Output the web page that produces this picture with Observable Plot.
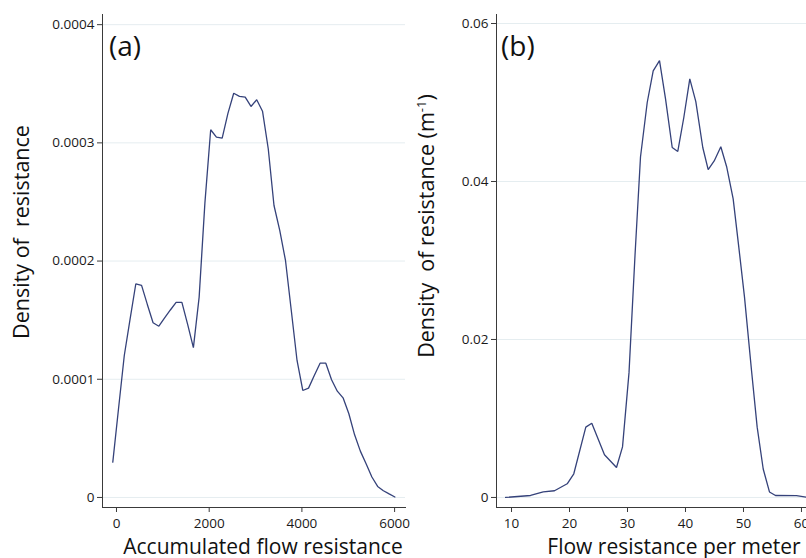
<!DOCTYPE html>
<html>
<head>
<meta charset="utf-8">
<script src="https://cdn.jsdelivr.net/npm/d3@7"></script>
<script src="https://cdn.jsdelivr.net/npm/@observablehq/plot@0.6"></script>
<style>
  html, body { margin: 0; padding: 0; background: #fff; }
  #chart { position: relative; width: 806px; height: 558px; overflow: hidden; background: #fff; }
  .panel { position: absolute; top: 0; }
  .panel svg { display: block; }
</style>
</head>
<body>
<div id="chart">
  <div class="panel" id="panelA" style="left:0;width:410px;height:558px"></div>
  <div class="panel" id="panelB" style="left:400px;width:412px;height:558px"></div>
</div>
<script>
// Panel (a): kernel density of accumulated flow resistance
const accumulatedX = [-80, 44, 168, 293, 417, 541, 665, 789, 914, 1038, 1162, 1286, 1411, 1535, 1659,
  1783, 1907, 2032, 2156, 2280, 2404, 2529, 2653, 2777, 2901, 3025, 3150, 3274, 3398, 3522, 3646,
  3771, 3895, 4019, 4143, 4267, 4392, 4516, 4640, 4764, 4888, 5013, 5137, 5261, 5385, 5510, 5634,
  5758, 5882, 6006];
const accumulatedDensity = [0.0000299, 0.0000753, 0.0001201, 0.0001509, 0.0001808, 0.0001794,
  0.0001633, 0.0001478, 0.0001449, 0.0001519, 0.0001586, 0.0001650, 0.0001650, 0.0001464,
  0.0001267, 0.0001695, 0.0002490, 0.0003111, 0.0003048, 0.0003040, 0.0003250, 0.0003420,
  0.0003393, 0.0003387, 0.0003308, 0.0003365, 0.0003268, 0.0002950, 0.0002470, 0.0002259,
  0.0002005, 0.0001582, 0.0001159, 0.0000905, 0.0000925, 0.0001032, 0.0001136, 0.0001136,
  0.0000996, 0.0000899, 0.0000843, 0.0000708, 0.0000530, 0.0000392, 0.0000285, 0.0000173,
  0.0000093, 0.0000057, 0.0000030, 0.0000004];
const accumulatedXTicks = [0, 2000, 4000, 6000];
const accumulatedYTicks = [0, 0.0001, 0.0002, 0.0003, 0.0004];

// Panel (b): kernel density of flow resistance per meter
const perMeterX = [8.97, 13.28, 15.47, 17.41, 19.60, 20.74, 22.81, 23.84, 26.03, 28.10, 29.14,
  30.26, 31.29, 32.24, 33.40, 34.43, 35.52, 36.55, 37.71, 38.67, 39.71, 40.74, 41.78, 42.98,
  43.91, 44.95, 46.09, 47.12, 48.22, 49.19, 50.17, 51.38, 52.36, 53.40, 54.48, 55.52, 59.14, 60.86];
const perMeterDensity = [0.0000, 0.00025, 0.00072, 0.00085, 0.00173, 0.0030, 0.0089, 0.0094,
  0.0054, 0.0038, 0.0064, 0.0158, 0.0306, 0.0431, 0.0500, 0.0540, 0.0553, 0.0505, 0.0443, 0.0438,
  0.0481, 0.0530, 0.0501, 0.0443, 0.0415, 0.0426, 0.0444, 0.0418, 0.0378, 0.0317, 0.0254, 0.0161,
  0.0089, 0.0036, 0.0007, 0.00025, 0.00023, 0.00004];
const perMeterXTicks = [10, 20, 30, 40, 50, 60];
const perMeterYTicks = [0, 0.02, 0.04, 0.06];

const FONT = "'Open Sans', 'Noto Sans', sans-serif";
const LINE = "#35427a";
const GRID = "#e5edf0";
const AXIS = "#3a3a3a";

function densityPanel({xs, ys, xDomain, yDomain, xTicks, yTicks, width, marginLeft, marginRight}) {
  const rows = xs.map((x, i) => ({x, y: ys[i]}));
  return Plot.plot({
    width, height: 558,
    marginLeft, marginRight, marginTop: 14, marginBottom: 51,
    style: {fontFamily: FONT, fontSize: "13.5px", color: "#1a1a1a", background: "transparent"},
    x: {domain: xDomain},
    y: {domain: yDomain},
    marks: [
      Plot.gridY(yTicks, {stroke: GRID, strokeOpacity: 1, strokeWidth: 1}),
      Plot.frame({anchor: "left", stroke: AXIS}),
      Plot.frame({anchor: "bottom", stroke: AXIS}),
      Plot.axisY(yTicks, {tickSize: 5, tickPadding: 3, stroke: AXIS, fill: "#1a1a1a",
        tickFormat: d => `${d}`, label: null}),
      Plot.axisX(xTicks, {tickSize: 5, tickPadding: 6, stroke: AXIS, fill: "#1a1a1a",
        tickFormat: d => `${d}`, label: null}),
      Plot.line(rows, {x: "x", y: "y", stroke: LINE, strokeWidth: 1.3, strokeLinejoin: "miter"})
    ]
  });
}

const plotA = densityPanel({
  xs: accumulatedX, ys: accumulatedDensity,
  xDomain: [-302, 6235], yDomain: [-0.0000085, 0.0004086],
  xTicks: accumulatedXTicks, yTicks: accumulatedYTicks,
  width: 410, marginLeft: 102, marginRight: 5
});
const plotB = densityPanel({
  xs: perMeterX, ys: perMeterDensity,
  xDomain: [7.41, 61.9], yDomain: [-0.00127, 0.06114],
  xTicks: perMeterXTicks, yTicks: perMeterYTicks,
  width: 412, marginLeft: 96, marginRight: 0
});

document.getElementById("panelA").appendChild(plotA);
document.getElementById("panelB").appendChild(plotB);

// Panel letters and axis titles
function annotate(svg, {letter, letterX, xTitle, xTitleX, yTitleX, yTitleY, yTitle}) {
  const s = d3.select(svg);
  s.append("text")
    .attr("x", letterX).attr("y", 56)
    .attr("text-anchor", "start")
    .attr("font-family", FONT).attr("font-size", 28).attr("fill", "#111")
    .text(letter);
  s.append("text")
    .attr("x", xTitleX).attr("y", 554)
    .attr("text-anchor", "middle")
    .attr("font-family", FONT).attr("font-size", 21).attr("fill", "#111")
    .text(xTitle);
  const yt = s.append("text")
    .attr("transform", `translate(${yTitleX},${yTitleY}) rotate(-90)`)
    .attr("text-anchor", "middle")
    .attr("xml:space", "preserve")
    .style("white-space", "pre")
    .attr("font-family", FONT).attr("font-size", 21.5).attr("fill", "#111");
  yTitle(yt);
}

annotate(plotA, {
  letter: "(a)", letterX: 109,
  xTitle: "Accumulated flow resistance", xTitleX: 263,
  yTitleX: 28.5, yTitleY: 232,
  yTitle: t => t.text("Density of  resistance")
});
annotate(plotB, {
  letter: "(b)", letterX: 101,
  xTitle: "Flow resistance per meter", xTitleX: 274,
  yTitleX: 33.5, yTitleY: 226,
  yTitle: t => {
    t.append("tspan").text("Density  of resistance (m");
    t.append("tspan").attr("font-size", 13).attr("dy", -8).text("-1");
    t.append("tspan").attr("dy", 8).text(")");
  }
});
</script>
</body>
</html>
